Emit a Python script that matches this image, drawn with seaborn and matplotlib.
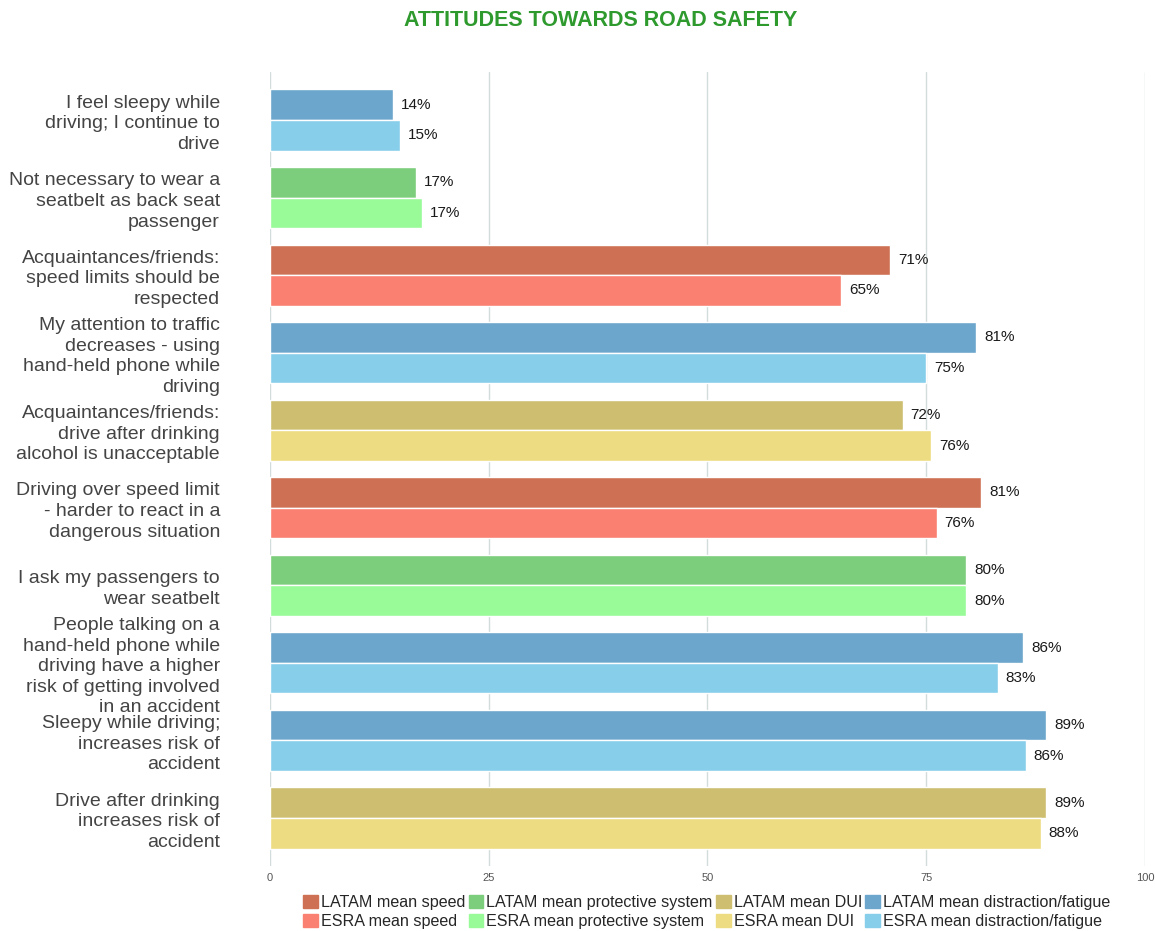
import matplotlib
matplotlib.use("Agg")
import matplotlib.pyplot as plt
import matplotlib.patches as mpatches
import seaborn as sns
import pandas as pd

# Data
statements = [
    "I feel sleepy while\ndriving; I continue to\ndrive",
    "Not necessary to wear a\nseatbelt as back seat\npassenger",
    "Acquaintances/friends:\nspeed limits should be\nrespected",
    "My attention to traffic\ndecreases - using\nhand-held phone while\ndriving",
    "Acquaintances/friends:\ndrive after drinking\nalcohol is unacceptable",
    "Driving over speed limit\n- harder to react in a\ndangerous situation",
    "I ask my passengers to\nwear seatbelt",
    "People talking on a\nhand-held phone while\ndriving have a higher\nrisk of getting involved\nin an accident",
    "Sleepy while driving;\nincreases risk of\naccident",
    "Drive after drinking\nincreases risk of\naccident",
]
topic = ["distraction/fatigue", "protective system", "speed", "distraction/fatigue", "DUI",
         "speed", "protective system", "distraction/fatigue", "distraction/fatigue", "DUI"]
latam = [14.1, 16.7, 70.9, 80.7, 72.3, 81.3, 79.6, 86.1, 88.7, 88.7]
esra = [14.9, 17.4, 65.3, 75.0, 75.6, 76.2, 79.6, 83.2, 86.4, 88.1]

regions = ["LATAM", "ESRA"]
topics = ["speed", "protective system", "DUI", "distraction/fatigue"]
colors = {
    ("LATAM", "speed"): "#CD7054", ("ESRA", "speed"): "#FA8072",
    ("LATAM", "protective system"): "#7CCD7C", ("ESRA", "protective system"): "#98FB98",
    ("LATAM", "DUI"): "#CDBE70", ("ESRA", "DUI"): "#EEDC82",
    ("LATAM", "distraction/fatigue"): "#6CA6CD", ("ESRA", "distraction/fatigue"): "#87CEEB",
}

df = pd.DataFrame({
    "Statement": statements * 2,
    "Topic": topic * 2,
    "Region": ["LATAM"] * len(latam) + ["ESRA"] * len(esra),
    "Value": latam + esra,
})

sns.set_style("white")
plt.rcParams["font.family"] = ["Liberation Sans", "DejaVu Sans"]

fig = plt.figure(figsize=(11.55, 9.31), dpi=100)
ax = fig.add_axes([0.2338, 0.0698, 0.7575, 0.8529])

sns.barplot(data=df, y="Statement", x="Value", hue="Region", hue_order=regions,
            order=statements, orient="h", width=0.79, dodge=True, ax=ax,
            edgecolor="white", linewidth=1, legend=False)

# recolour each bar by its topic, add value labels
for region, container in zip(regions, ax.containers):
    sub = df[df["Region"] == region].set_index("Statement").loc[statements]
    for bar, (_, row) in zip(container, sub.iterrows()):
        bar.set_facecolor(colors[(region, row["Topic"])])
        ax.text(bar.get_width() + 0.9, bar.get_y() + bar.get_height() / 2,
                f"{row['Value']:.0f}%", va="center", ha="left", fontsize=11,
                color="#1a1a1a")

ax.set_xlim(0, 100)
ax.set_ylim(len(statements) - 0.38, -0.62)
ax.set_xticks([0, 25, 50, 75, 100])
ax.set_xticklabels(["0", "25", "50", "75", "100"])
ax.tick_params(axis="x", labelsize=8, labelcolor="#555555", length=0, pad=5)
ax.tick_params(axis="y", labelsize=14, labelcolor="#444444", length=0, pad=36)
for lbl in ax.get_yticklabels():
    lbl.set_linespacing(1.28)
ax.grid(axis="x", color="#D3DCDC", linewidth=1)
ax.set_axisbelow(True)
for s in ax.spines.values():
    s.set_visible(False)
ax.set_xlabel("")
ax.set_ylabel("")

fig.text(0.52, 0.978, "ATTITUDES TOWARDS ROAD SAFETY", ha="center", va="center",
         fontsize=15.5, fontweight="bold", color="#2E9A2E")

handles = []
for t in topics:
    for r in regions:
        handles.append(mpatches.Patch(color=colors[(r, t)], label=f"{r} mean {t}"))
fig.legend(handles=handles, ncol=4, loc="center", bbox_to_anchor=(0.612, 0.0205),
           frameon=False, handlelength=0.9, handleheight=0.9,
           handletextpad=0.2, columnspacing=0.2, labelspacing=0.2,
           prop={"size": 11.6})

fig.savefig("out.png", dpi=100)
